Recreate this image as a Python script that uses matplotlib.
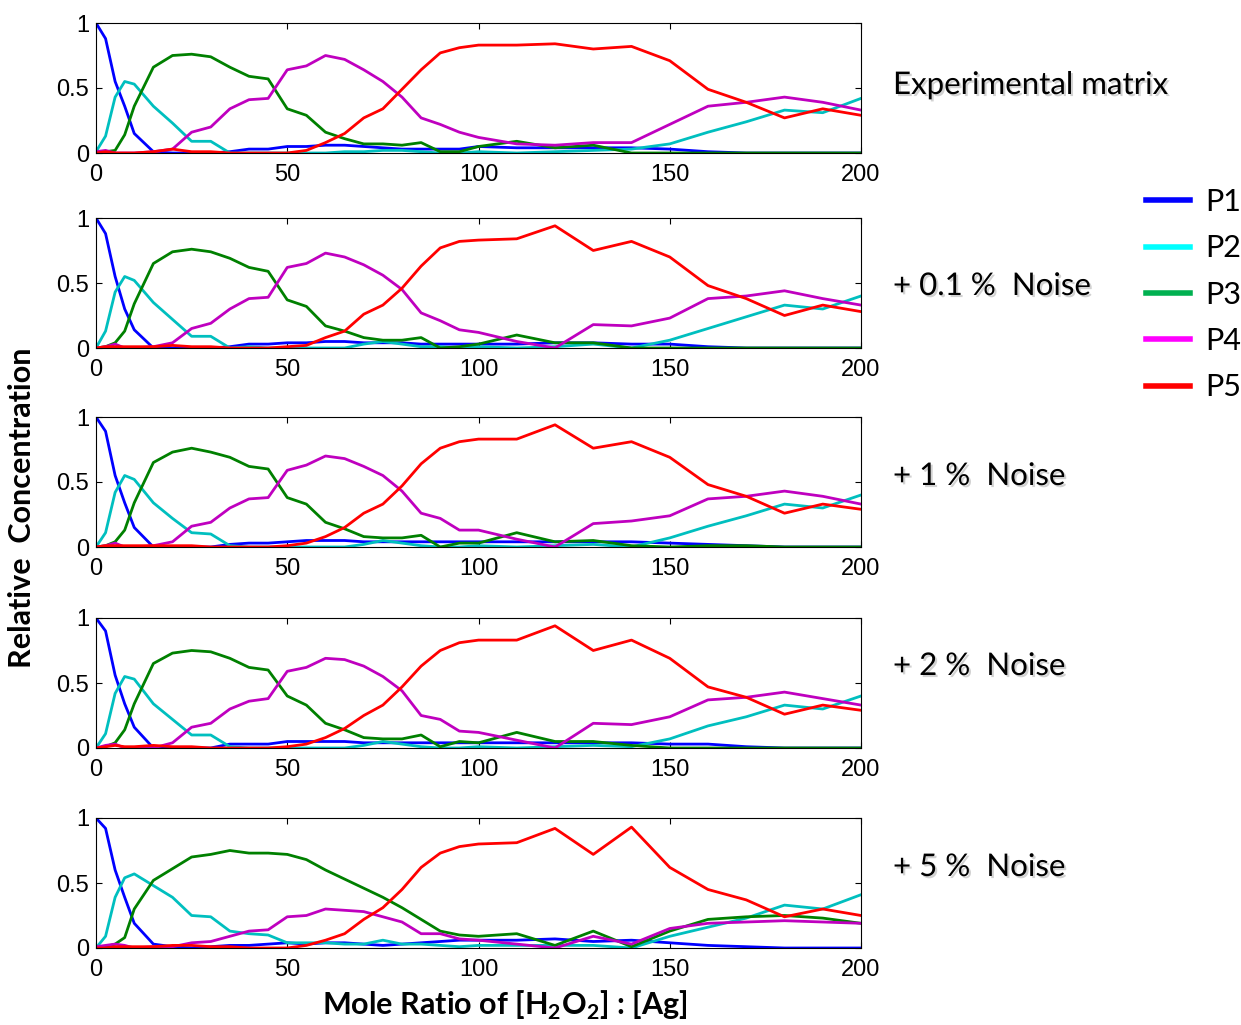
# 濃度プロファイル（ノイズ比較）
import matplotlib
matplotlib.use('Agg')
import matplotlib.pyplot as plt
import matplotlib.patheffects as pe
from matplotlib.lines import Line2D

plt.rcParams['font.family'] = ['Liberation Sans', 'DejaVu Sans']
plt.rcParams['mathtext.fontset'] = 'custom'
plt.rcParams['mathtext.rm'] = 'Lato'
plt.rcParams['mathtext.bf'] = 'Lato:bold'

# 横軸
x = [0, 2.5, 5, 7.5, 10, 15, 20, 25, 30, 35, 40, 45, 50, 55, 60, 65, 70, 75, 80, 85,
     90, 95, 100, 110, 120, 130, 140, 150, 160, 170, 180, 190, 200]

# 実験データ
exp_p1 = [1.0, 0.88, 0.55, 0.36, 0.15, 0.01, 0.0, 0.0, 0.0, 0.01, 0.03, 0.03, 0.05, 0.05, 0.06, 0.06, 0.05,
          0.04, 0.03, 0.03, 0.03, 0.03, 0.05, 0.04, 0.04, 0.04, 0.04, 0.03, 0.01, 0.0, 0.0, 0.0, 0.0]
exp_p2 = [0.01, 0.13, 0.43, 0.55, 0.53, 0.36, 0.23, 0.09, 0.09, 0.0, 0.0, 0.0, 0.0, 0.0, 0.0, 0.01, 0.01,
          0.02, 0.02, 0.01, 0.0, 0.0, 0.01, 0.0, 0.01, 0.02, 0.03, 0.07, 0.16, 0.24, 0.33, 0.31, 0.42]
exp_p3 = [0.0, 0.01, 0.02, 0.14, 0.36, 0.66, 0.75, 0.76, 0.74, 0.66, 0.59, 0.57, 0.34, 0.29, 0.16, 0.11, 0.07,
          0.07, 0.06, 0.08, 0.01, 0.01, 0.05, 0.09, 0.04, 0.06, 0.0, 0.0, 0.0, 0.0, 0.0, 0.0, 0.0]
exp_p4 = [0.01, 0.02, 0.0, 0.0, 0.0, 0.01, 0.03, 0.16, 0.2, 0.34, 0.41, 0.42, 0.64, 0.67, 0.75, 0.72, 0.64,
          0.55, 0.43, 0.27, 0.22, 0.16, 0.12, 0.07, 0.06, 0.08, 0.08, 0.22, 0.36, 0.39, 0.43, 0.39, 0.33]
exp_p5 = [0.0, 0.01, 0.0, 0.0, 0.0, 0.01, 0.03, 0.01, 0.01, 0.0, 0.0, 0.0, 0.0, 0.02, 0.08, 0.15, 0.27,
          0.34, 0.49, 0.64, 0.77, 0.81, 0.83, 0.83, 0.84, 0.8, 0.82, 0.71, 0.49, 0.39, 0.27, 0.34, 0.29]

# +0.1 % ノイズ
n01_p1 = [1.0, 0.88, 0.55, 0.3, 0.14, 0.0, 0.0, 0.0, 0.0, 0.01, 0.03, 0.03, 0.04, 0.04, 0.05, 0.05, 0.04,
          0.04, 0.04, 0.03, 0.03, 0.03, 0.03, 0.03, 0.04, 0.04, 0.03, 0.03, 0.01, 0.0, 0.0, 0.0, 0.0]
n01_p2 = [0.0, 0.13, 0.43, 0.55, 0.52, 0.35, 0.22, 0.09, 0.09, 0.0, 0.01, 0.0, 0.0, 0.0, 0.0, 0.0, 0.03,
          0.05, 0.03, 0.01, 0.01, 0.0, 0.01, 0.0, 0.01, 0.03, 0.0, 0.06, 0.15, 0.24, 0.33, 0.3, 0.4]
n01_p3 = [0.0, 0.01, 0.04, 0.13, 0.34, 0.65, 0.74, 0.76, 0.74, 0.69, 0.62, 0.59, 0.37, 0.32, 0.17, 0.13, 0.08,
          0.06, 0.06, 0.08, 0.0, 0.01, 0.03, 0.1, 0.04, 0.04, 0.0, 0.0, 0.0, 0.0, 0.0, 0.0, 0.0]
n01_p4 = [0.0, 0.01, 0.03, 0.0, 0.0, 0.01, 0.04, 0.15, 0.19, 0.3, 0.38, 0.39, 0.62, 0.65, 0.73, 0.7, 0.64,
          0.56, 0.45, 0.27, 0.21, 0.14, 0.12, 0.05, 0.0, 0.18, 0.17, 0.23, 0.38, 0.4, 0.44, 0.38, 0.33]
n01_p5 = [0.0, 0.01, 0.01, 0.01, 0.01, 0.01, 0.02, 0.01, 0.01, 0.0, 0.0, 0.0, 0.01, 0.02, 0.08, 0.13, 0.26,
          0.33, 0.46, 0.63, 0.77, 0.82, 0.83, 0.84, 0.94, 0.75, 0.82, 0.7, 0.48, 0.38, 0.25, 0.33, 0.28]

# +1 % ノイズ
n1_p1 = [1.0, 0.89, 0.55, 0.34, 0.15, 0.0, 0.0, 0.0, 0.0, 0.02, 0.03, 0.03, 0.04, 0.05, 0.05, 0.05, 0.04,
         0.04, 0.04, 0.04, 0.04, 0.04, 0.04, 0.04, 0.04, 0.04, 0.04, 0.03, 0.02, 0.01, 0.0, 0.0, 0.0]
n1_p2 = [0.0, 0.11, 0.42, 0.55, 0.52, 0.34, 0.22, 0.11, 0.1, 0.01, 0.0, 0.0, 0.0, 0.0, 0.0, 0.0, 0.02,
         0.05, 0.03, 0.01, 0.0, 0.0, 0.01, 0.0, 0.01, 0.02, 0.0, 0.07, 0.16, 0.24, 0.33, 0.3, 0.4]
n1_p3 = [0.0, 0.01, 0.04, 0.13, 0.34, 0.65, 0.73, 0.76, 0.73, 0.69, 0.62, 0.6, 0.38, 0.33, 0.19, 0.14, 0.08,
         0.07, 0.07, 0.09, 0.0, 0.03, 0.03, 0.11, 0.04, 0.05, 0.01, 0.0, 0.01, 0.01, 0.0, 0.0, 0.0]
n1_p4 = [0.0, 0.01, 0.03, 0.0, 0.0, 0.01, 0.04, 0.16, 0.19, 0.3, 0.37, 0.38, 0.59, 0.63, 0.7, 0.68, 0.62,
         0.55, 0.43, 0.26, 0.22, 0.13, 0.13, 0.06, 0.0, 0.18, 0.2, 0.24, 0.37, 0.39, 0.43, 0.39, 0.33]
n1_p5 = [0.0, 0.01, 0.01, 0.01, 0.01, 0.01, 0.01, 0.01, 0.0, 0.0, 0.0, 0.0, 0.01, 0.03, 0.08, 0.15, 0.26,
         0.33, 0.47, 0.64, 0.76, 0.81, 0.83, 0.83, 0.94, 0.76, 0.81, 0.69, 0.48, 0.39, 0.26, 0.33, 0.29]

# +2 % ノイズ
n2_p1 = [1.0, 0.9, 0.56, 0.34, 0.16, 0.0, 0.0, 0.0, 0.0, 0.03, 0.03, 0.03, 0.05, 0.05, 0.05, 0.05, 0.04,
         0.04, 0.04, 0.04, 0.04, 0.04, 0.04, 0.04, 0.04, 0.04, 0.04, 0.03, 0.03, 0.01, 0.0, 0.0, 0.0]
n2_p2 = [0.0, 0.11, 0.42, 0.55, 0.53, 0.34, 0.22, 0.1, 0.1, 0.01, 0.0, 0.0, 0.0, 0.0, 0.0, 0.0, 0.02,
         0.05, 0.03, 0.01, 0.0, 0.0, 0.01, 0.0, 0.01, 0.02, 0.01, 0.07, 0.17, 0.24, 0.33, 0.3, 0.4]
n2_p3 = [0.0, 0.01, 0.04, 0.14, 0.34, 0.65, 0.73, 0.75, 0.74, 0.69, 0.62, 0.6, 0.4, 0.33, 0.19, 0.14, 0.08,
         0.07, 0.07, 0.1, 0.01, 0.05, 0.04, 0.12, 0.05, 0.05, 0.02, 0.0, 0.0, 0.0, 0.0, 0.0, 0.0]
n2_p4 = [0.0, 0.02, 0.03, 0.0, 0.0, 0.0, 0.04, 0.16, 0.19, 0.3, 0.36, 0.38, 0.59, 0.62, 0.69, 0.68, 0.63,
         0.55, 0.44, 0.25, 0.22, 0.13, 0.12, 0.06, 0.0, 0.19, 0.18, 0.24, 0.37, 0.39, 0.43, 0.38, 0.33]
n2_p5 = [0.0, 0.01, 0.02, 0.01, 0.01, 0.02, 0.01, 0.01, 0.0, 0.0, 0.0, 0.0, 0.01, 0.03, 0.08, 0.15, 0.25,
         0.33, 0.47, 0.63, 0.75, 0.81, 0.83, 0.83, 0.94, 0.75, 0.83, 0.69, 0.47, 0.39, 0.26, 0.33, 0.29]

# +5 % ノイズ
n5_p1 = [1.0, 0.92, 0.6, 0.39, 0.19, 0.03, 0.01, 0.0, 0.01, 0.02, 0.02, 0.03, 0.04, 0.03, 0.04, 0.04, 0.03,
         0.02, 0.03, 0.04, 0.05, 0.06, 0.06, 0.06, 0.07, 0.05, 0.06, 0.04, 0.02, 0.01, 0.0, 0.0, 0.0]
n5_p2 = [0.0, 0.09, 0.39, 0.54, 0.57, 0.48, 0.39, 0.25, 0.24, 0.13, 0.11, 0.1, 0.04, 0.04, 0.04, 0.03, 0.03,
         0.06, 0.03, 0.03, 0.02, 0.01, 0.02, 0.02, 0.02, 0.02, 0.0, 0.09, 0.16, 0.23, 0.33, 0.3, 0.41]
n5_p3 = [0.0, 0.01, 0.03, 0.08, 0.3, 0.52, 0.61, 0.7, 0.72, 0.75, 0.73, 0.73, 0.72, 0.68, 0.6, 0.53, 0.46,
         0.39, 0.31, 0.22, 0.13, 0.1, 0.09, 0.11, 0.02, 0.13, 0.01, 0.13, 0.22, 0.24, 0.25, 0.23, 0.19]
n5_p4 = [0.01, 0.02, 0.03, 0.02, 0.0, 0.01, 0.01, 0.04, 0.05, 0.09, 0.13, 0.14, 0.24, 0.25, 0.3, 0.29, 0.28,
         0.24, 0.2, 0.11, 0.11, 0.07, 0.06, 0.03, 0.0, 0.09, 0.03, 0.15, 0.19, 0.2, 0.21, 0.2, 0.19]
n5_p5 = [0.0, 0.0, 0.01, 0.01, 0.01, 0.01, 0.02, 0.02, 0.01, 0.01, 0.0, 0.0, 0.0, 0.02, 0.06, 0.11, 0.22,
         0.31, 0.45, 0.62, 0.73, 0.78, 0.8, 0.81, 0.92, 0.72, 0.93, 0.62, 0.45, 0.37, 0.24, 0.3, 0.25]

panels = [
    ('Experimental matrix', [exp_p1, exp_p2, exp_p3, exp_p4, exp_p5]),
    ('+ 0.1 %  Noise', [n01_p1, n01_p2, n01_p3, n01_p4, n01_p5]),
    ('+ 1 %  Noise', [n1_p1, n1_p2, n1_p3, n1_p4, n1_p5]),
    ('+ 2 %  Noise', [n2_p1, n2_p2, n2_p3, n2_p4, n2_p5]),
    ('+ 5 %  Noise', [n5_p1, n5_p2, n5_p3, n5_p4, n5_p5]),
]
species = ['P1', 'P2', 'P3', 'P4', 'P5']
line_colors = ['#0000ff', '#00bfbf', '#008000', '#bf00bf', '#ff0000']
legend_colors = ['#0000ff', '#00ffff', '#00b050', '#ff00ff', '#ff0000']

W, H = 1241, 1025
fig = plt.figure(figsize=(W / 100, H / 100), dpi=100)

# 各パネルの上端（ピクセル）
tops = [23, 218, 417, 618, 818]
ax_h = 130
left, right = 96, 861
label_y = [85, 286, 476, 666, 867]

shadow = [pe.withSimplePatchShadow(offset=(1.5, -1.5), shadow_rgbFace='0.5', alpha=0.35)]

for i, (name, series) in enumerate(panels):
    ax = fig.add_axes([left / W, 1 - (tops[i] + ax_h) / H, (right - left) / W, ax_h / H])
    for ys, c in zip(series, line_colors):
        ax.plot(x, ys, color=c, lw=2.0)
    ax.set_xlim(0, 200)
    ax.set_ylim(0, 1)
    ax.set_xticks([0, 50, 100, 150, 200])
    ax.set_yticks([0, 0.5, 1])
    ax.set_yticklabels(['0', '0.5', '1'])
    ax.tick_params(direction='in', top=True, right=True, length=4, width=0.8,
                   labelsize=17, pad=5)
    ax.tick_params(axis='x', pad=8)
    for s in ax.spines.values():
        s.set_linewidth(0.8)
    fig.text(893 / W, 1 - label_y[i] / H, name, fontsize=22.5, family='Lato',
             ha='left', va='center', path_effects=shadow)

fig.text(22 / W, 1 - 508 / H, 'Relative  Concentration', rotation=90, fontsize=22,
         family='Lato', fontweight='bold', ha='center', va='center')
fig.text(505 / W, 1 - 1005 / H, r'Mole Ratio of [H$_\mathbf{2}$O$_\mathbf{2}$] : [Ag]',
         fontsize=22, family='Lato', fontweight='bold', ha='center', va='center')

handles = [Line2D([], [], color=c, lw=4) for c in legend_colors]
fig.legend(handles, species, loc='upper left', bbox_to_anchor=(1146 / W, 1 - 188 / H),
           frameon=False, prop={'family': 'Lato', 'size': 22}, handlelength=1.45,
           handletextpad=0.5, labelspacing=0.6, borderpad=0, borderaxespad=0)

plt.savefig('out.png', dpi=100)
